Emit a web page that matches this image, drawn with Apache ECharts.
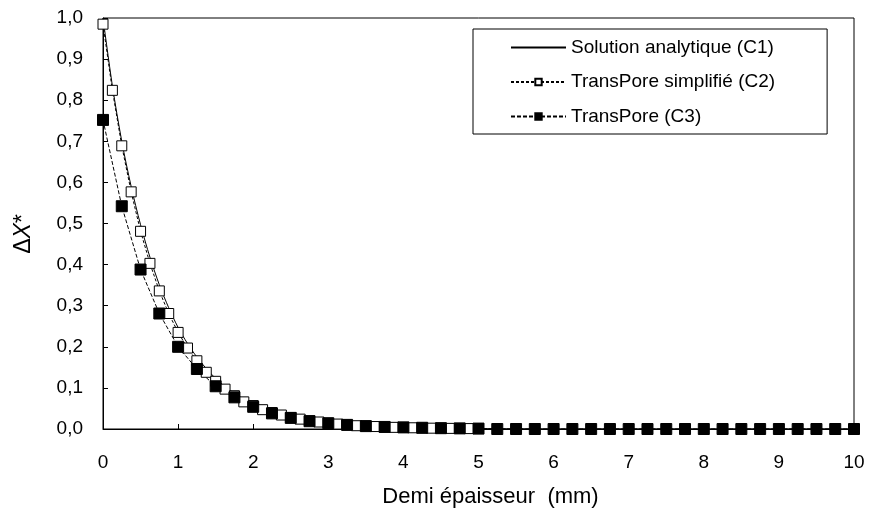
<!DOCTYPE html>
<html>
<head>
<meta charset="utf-8">
<script src="https://cdn.jsdelivr.net/npm/echarts@6/dist/echarts.min.js"></script>
<style>
  html, body { margin: 0; padding: 0; background: #fff; }
  #chart { width: 869px; height: 513px; }
</style>
</head>
<body>
<div id="chart"></div>
<script>
// abscisses (mm)
const xC1 = [0, 0.125, 0.25, 0.375, 0.5, 0.625, 0.75, 0.875, 1, 1.125, 1.25, 1.375, 1.5, 1.625, 1.75, 1.875,
  2, 2.125, 2.25, 2.375, 2.5, 2.625, 2.75, 2.875, 3, 3.25, 3.5, 3.75, 4, 4.5, 5, 6, 7, 8, 9, 10]
const xC2 = [0, 0.125, 0.25, 0.375, 0.5, 0.625, 0.75, 0.875, 1, 1.125, 1.25, 1.375, 1.5, 1.625, 1.75, 1.875,
  2, 2.125, 2.25, 2.375, 2.5, 2.625, 2.75, 2.875, 3, 3.125, 3.25, 3.375, 3.5, 3.625, 3.75, 3.875,
  4, 4.125, 4.25, 4.375, 4.5, 4.625, 4.75, 4.875, 5]
const xC3 = [0, 0.25, 0.5, 0.75, 1, 1.25, 1.5, 1.75, 2, 2.25, 2.5, 2.75, 3, 3.25, 3.5, 3.75, 4, 4.25, 4.5, 4.75,
  5, 5.25, 5.5, 5.75, 6, 6.25, 6.5, 6.75, 7, 7.25, 7.5, 7.75, 8, 8.25, 8.5, 8.75, 9, 9.25, 9.5, 9.75, 10]

// valeurs de deltaX*
const yC1 = [1.0, 0.835, 0.700, 0.590, 0.497, 0.418, 0.351, 0.295, 0.247, 0.208, 0.175, 0.147, 0.123, 0.103, 0.087, 0.072,
  0.060, 0.050, 0.042, 0.035, 0.029, 0.024, 0.020, 0.017, 0.014, 0.010, 0.007, 0.005, 0.003, 0.002, 0.001, 0, 0, 0, 0, 0]
const yC2 = [0.985, 0.824, 0.689, 0.577, 0.481, 0.403, 0.336, 0.281, 0.235, 0.197, 0.166, 0.138, 0.116, 0.097, 0.081, 0.066,
  0.057, 0.047, 0.040, 0.034, 0.028, 0.024, 0.020, 0.017, 0.014, 0.012, 0.010, 0.008, 0.007, 0.006, 0.005, 0.004,
  0.0035, 0.003, 0.0025, 0.002, 0.002, 0.0015, 0.0012, 0.001, 0.001]
const yC3 = [0.752, 0.542, 0.388, 0.281, 0.200, 0.146, 0.104, 0.077, 0.054, 0.038, 0.027, 0.019, 0.014, 0.010, 0.007, 0.005,
  0.004, 0.003, 0.002, 0.0015, 0.001, 0, 0, 0, 0, 0, 0, 0, 0, 0, 0, 0, 0, 0, 0, 0, 0, 0, 0, 0, 0]

const names = ['Solution analytique (C1)', 'TransPore simplifié (C2)', 'TransPore (C3)']
const font = 'Arial, "Liberation Sans", sans-serif'

const pairs = (xs, ys) => xs.map((x, i) => [x, ys[i]])

const chart = echarts.init(document.getElementById('chart'), null, { renderer: 'canvas' })

chart.setOption({
  animation: false,
  backgroundColor: '#fff',
  grid: {
    left: 103, right: 15, top: 18, bottom: 83,
    show: true, borderColor: '#000', borderWidth: 1
  },
  legend: {
    orient: 'vertical',
    left: 473, top: 29,
    padding: [9, 52, 8, 37],
    itemGap: 15.5,
    itemWidth: 55,
    itemHeight: 8,
    borderColor: '#000',
    borderWidth: 1,
    backgroundColor: '#fff',
    textStyle: { fontFamily: font, fontSize: 19, color: '#000', lineHeight: 19 },
    data: [
      { name: names[0], itemStyle: { opacity: 0 } },
      names[1],
      names[2]
    ]
  },
  xAxis: {
    type: 'value',
    min: 0, max: 10, interval: 1,
    name: 'Demi épaisseur  (mm)',
    nameLocation: 'middle',
    nameGap: 57,
    nameTextStyle: { fontFamily: font, fontSize: 22, color: '#000', padding: [0, 0, 0, 24] },
    axisLine: { lineStyle: { color: '#000', width: 1 } },
    axisTick: { inside: true, length: 5, lineStyle: { color: '#000' } },
    axisLabel: { margin: 24, fontFamily: font, fontSize: 19, color: '#000' },
    splitLine: { show: false }
  },
  yAxis: {
    type: 'value',
    min: 0, max: 1, interval: 0.1,
    axisLine: { show: true, lineStyle: { color: '#000', width: 1 } },
    axisTick: { show: true, inside: true, length: 5, lineStyle: { color: '#000' } },
    axisLabel: {
      margin: 20, fontFamily: font, fontSize: 19, color: '#000',
      formatter: v => v.toFixed(1).replace('.', ',')
    },
    splitLine: { show: false }
  },
  graphic: [{
    type: 'text',
    x: 24, y: 234,
    rotation: Math.PI / 2,
    style: {
      text: '{a|Δ}{b|X}{c|*}',
      align: 'center',
      verticalAlign: 'middle',
      rich: {
        a: { fontFamily: font, fontSize: 23, fill: '#000' },
        b: { fontFamily: font, fontSize: 23, fontStyle: 'italic', fill: '#000' },
        c: { fontFamily: font, fontSize: 23, fill: '#000' }
      }
    }
  }],
  series: [
    {
      name: names[0],
      type: 'line',
      data: pairs(xC1, yC1),
      smooth: 0.3,
      showSymbol: false,
      symbol: 'none',
      lineStyle: { color: '#000', width: 1 },
      itemStyle: { color: '#000' }
    },
    {
      name: names[1],
      type: 'line',
      data: pairs(xC2, yC2),
      symbol: 'rect',
      symbolSize: 10,
      lineStyle: { color: '#000', width: 1, type: [3, 2] },
      itemStyle: { color: '#fff', borderColor: '#000', borderWidth: 1 }
    },
    {
      name: names[2],
      type: 'line',
      data: pairs(xC3, yC3),
      symbol: 'rect',
      symbolSize: 11,
      lineStyle: { color: '#000', width: 1, type: [4, 2] },
      itemStyle: { color: '#000', borderColor: '#000', borderWidth: 1 }
    }
  ]
})
</script>
</body>
</html>
